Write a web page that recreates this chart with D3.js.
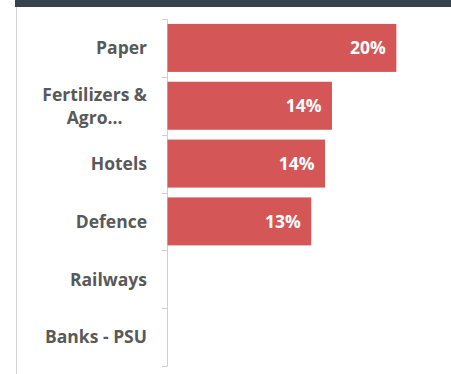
<!DOCTYPE html>
<html>
<head>
<meta charset="utf-8">
<script src="https://cdn.jsdelivr.net/npm/d3@7"></script>
<style>
  html, body { margin: 0; padding: 0; background: #fff; }
  svg { display: block; }
</style>
</head>
<body>
<svg id="chart" width="451" height="374"></svg>
<script>
// Sector weights (share of portfolio)
const sectors = ["Paper", "Fertilizers & Agro...", "Hotels", "Defence", "Railways", "Banks - PSU"];
const sectorLines = [["Paper"], ["Fertilizers &", "Agro..."], ["Hotels"], ["Defence"], ["Railways"], ["Banks - PSU"]];
const weights = [0.199, 0.143, 0.137, 0.125, null, null];

const W = 451, H = 374;
const svg = d3.select("#chart");

// Header strip and frame line
svg.append("rect").attr("x", 15).attr("y", 0).attr("width", W - 15).attr("height", 7).attr("fill", "#36424c");
svg.append("line").attr("x1", 16.5).attr("x2", 16.5).attr("y1", 7).attr("y2", H)
  .attr("stroke", "#d4d4d4").attr("stroke-width", 1);

const x = d3.scaleLinear().domain([0, 0.25]).range([167, 454.5]);
const y = d3.scaleBand().domain(sectors).range([19, 366]).paddingInner(0.17).paddingOuter(0.085);

// Category axis: line with outward ticks at band boundaries
const axisG = svg.append("g").attr("stroke", "#d0d0d0").attr("stroke-width", 1).attr("fill", "none");
axisG.append("line").attr("x1", 167.5).attr("x2", 167.5).attr("y1", 19).attr("y2", 366);
d3.range(sectors.length + 1).forEach(i => {
  const yy = Math.round(19 + i * (366 - 19) / sectors.length) + 0.5;
  axisG.append("line").attr("x1", 162).attr("x2", 167.5).attr("y1", yy).attr("y2", yy);
});

const data = sectors.map((s, i) => ({ s, lines: sectorLines[i], v: weights[i] }));

// Bars
svg.append("g").selectAll("rect")
  .data(data.filter(d => d.v != null))
  .join("rect")
  .attr("x", x(0) + 0.5)
  .attr("y", d => y(d.s))
  .attr("width", d => x(d.v) - x(0))
  .attr("height", y.bandwidth())
  .attr("fill", "#d45657");

// Value labels inside bar ends
const fmt = d3.format(".0%");
svg.append("g").selectAll("text")
  .data(data.filter(d => d.v != null))
  .join("text")
  .attr("x", d => x(d.v) - 10)
  .attr("y", d => y(d.s) + y.bandwidth() / 2)
  .attr("dy", "0.36em")
  .attr("text-anchor", "end")
  .attr("fill", "#ffffff")
  .style("font", "bold 17.5px 'Open Sans', sans-serif")
  .text(d => fmt(d.v));

// Category labels; wrapped labels are centred within their widest line
const labelG = svg.append("g")
  .style("font", "bold 17.5px 'Open Sans', sans-serif")
  .attr("fill", "#595959");
const labelRight = 147;
data.forEach(d => {
  const cy = y(d.s) + y.bandwidth() / 2;
  const lh = 23;
  const n = d.lines.length;
  const texts = d.lines.map((ln, k) => labelG.append("text")
    .attr("y", cy + (k - (n - 1) / 2) * lh)
    .attr("dy", "0.36em")
    .text(ln));
  if (n === 1) {
    texts[0].attr("x", labelRight).attr("text-anchor", "end");
  } else {
    const maxW = d3.max(texts, t => t.node().getComputedTextLength());
    texts.forEach(t => t.attr("x", labelRight - maxW / 2).attr("text-anchor", "middle"));
  }
});
</script>
</body>
</html>
